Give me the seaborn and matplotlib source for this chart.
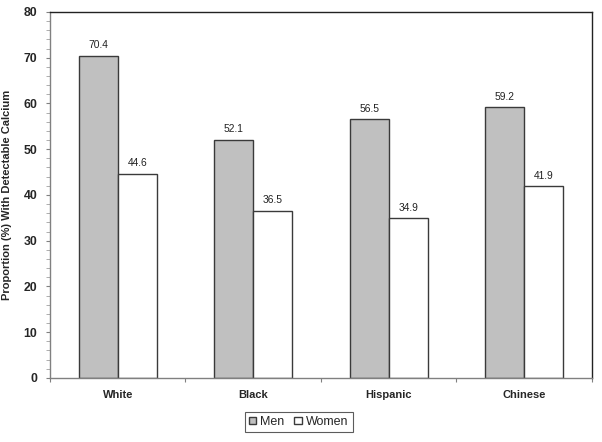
import pandas as pd
import seaborn as sns
import matplotlib.pyplot as plt
from matplotlib.ticker import MultipleLocator, FixedLocator

# Data
groups = ['White', 'Black', 'Hispanic', 'Chinese']
men = [70.4, 52.1, 56.5, 59.2]
women = [44.6, 36.5, 34.9, 41.9]

df = pd.DataFrame({
    'Group': groups * 2,
    'Sex': ['Men'] * 4 + ['Women'] * 4,
    'Value': men + women,
})

sns.set_style("white")
plt.rcParams['font.family'] = ['Liberation Sans', 'DejaVu Sans']

fig = plt.figure(figsize=(6.02, 4.42), dpi=100)
ax = fig.add_axes([0.083, 0.145, 0.9, 0.828])

sns.barplot(data=df, x='Group', y='Value', hue='Sex', order=groups, hue_order=['Men', 'Women'],
            palette=['#c0c0c0', '#ffffff'], width=0.576, gap=0, edgecolor='#3a3a3a', linewidth=1.0,
            saturation=1.0, ax=ax, legend=True, errorbar=None)

# Value labels
for cont in ax.containers:
    ax.bar_label(cont, fmt='%.1f', padding=4, fontsize=7.4, color='#222222')

ax.set_xlim(-0.5, 3.5)
ax.set_ylim(0, 80)
ax.yaxis.set_major_locator(MultipleLocator(10))
ax.yaxis.set_minor_locator(MultipleLocator(2))
ax.tick_params(axis='y', which='major', direction='out', length=3, width=0.8, color='#808080',
               left=True, labelsize=8.8, pad=6)
ax.tick_params(axis='y', which='minor', direction='out', length=3, width=0.6, color='#a0a0a0', left=True)
for lab in ax.get_yticklabels():
    lab.set_fontweight('bold')

# Category separators as ticks, labels at centers
ax.xaxis.set_major_locator(FixedLocator([-0.5, 0.5, 1.5, 2.5, 3.5]))
ax.xaxis.set_minor_locator(FixedLocator([0, 1, 2, 3]))
ax.set_xticklabels([''] * 5)
ax.set_xticklabels(groups, minor=True, fontweight='bold', fontsize=8)
ax.tick_params(axis='x', which='major', direction='out', length=3, width=0.8, color='#808080', bottom=True)
ax.tick_params(axis='x', which='minor', length=0, pad=9)

ax.set_xlabel('')
ax.set_ylabel('Proportion (%) With Detectable Calcium', fontweight='bold', fontsize=8)
ax.yaxis.set_label_coords(-0.070, 0.5)

for side in ['top', 'right']:
    ax.spines[side].set_color('#222222')
    ax.spines[side].set_linewidth(1.0)
for side in ['left', 'bottom']:
    ax.spines[side].set_color('#808080')
    ax.spines[side].set_linewidth(1.0)

ax.legend_.remove()
leg = fig.legend(*ax.get_legend_handles_labels(), loc='lower center', bbox_to_anchor=(0.496, 0.022),
                 ncol=2, fontsize=9, frameon=True, fancybox=False, edgecolor='#333333',
                 handlelength=0.6, handleheight=0.6, handletextpad=0.3, columnspacing=0.8,
                 borderpad=0.35, borderaxespad=0)
leg.get_frame().set_linewidth(0.8)

fig.savefig('out.png', dpi=100)
